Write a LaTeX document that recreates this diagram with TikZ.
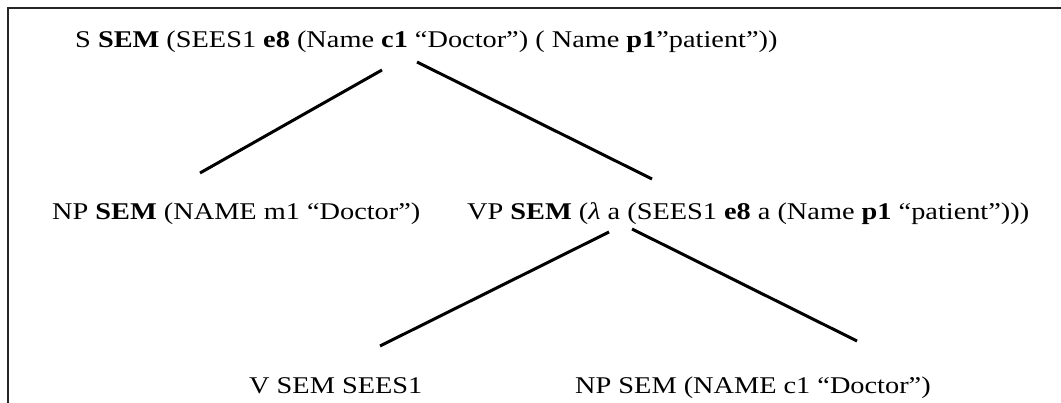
\documentclass[tikz,border=0pt]{standalone}
\usepackage{fontspec}
\setmainfont{Liberation Serif}[FakeStretch=1.18]
\begin{document}
\begin{tikzpicture}[x=1pt,y=-1pt,
  lbl/.style={anchor=base west,inner sep=0pt,font=\fontsize{24}{28}\selectfont},
  edge/.style={line width=3pt,black},
  frame/.style={line width=2.5pt,black!85}]
\useasboundingbox (0,0) rectangle (1061,403);
\draw[frame] (1061,8) -- (8,8) -- (8,403);
\node[lbl] (root) at (75,48) {S \textbf{SEM} (SEES1 \textbf{e8} (Name \textbf{c1} “Doctor”) ( Name \textbf{p1}”patient”))};
\node[lbl] (np) at (52,220) {NP \textbf{SEM} (NAME m1 “Doctor”)};
\node[lbl] (vp) at (467,220) {VP \textbf{SEM} (\textit{λ} a (SEES1 \textbf{e8} a (Name \textbf{p1} “patient”)))};
\node[lbl] (v) at (249,394) {V SEM SEES1};
\node[lbl] (np2) at (575,394) {NP SEM (NAME c1 “Doctor”)};
\coordinate (r1) at (382,70);
\coordinate (r2) at (417,62);
\coordinate (npt) at (200,173);
\coordinate (vpt) at (652,179);
\coordinate (vp1) at (609,232);
\coordinate (vp2) at (632,229);
\coordinate (vt) at (380,346);
\coordinate (np2t) at (857,341);
\draw[edge] (r1) -- (npt);
\draw[edge] (r2) -- (vpt);
\draw[edge] (vp1) -- (vt);
\draw[edge] (vp2) -- (np2t);
\end{tikzpicture}
\end{document}
